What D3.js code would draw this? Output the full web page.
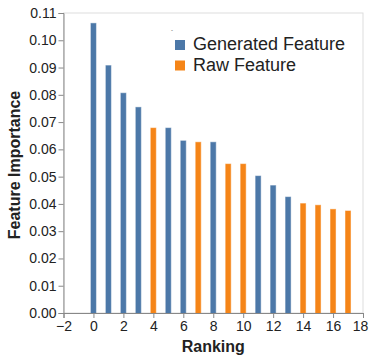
<!DOCTYPE html>
<html>
<head>
<meta charset="utf-8">
<script src="https://cdn.jsdelivr.net/npm/d3@7"></script>
<style>
  body { margin: 0; background: #fff; }
  text { font-family: Arial, "Liberation Sans", sans-serif; }
</style>
</head>
<body>
<div id="chart"></div>
<script>
// ranking of each feature (x) and its importance (y)
var ranks = [0, 1, 2, 3, 4, 5, 6, 7, 8, 9, 10, 11, 12, 13, 14, 15, 16, 17];
var importance = [0.1062, 0.0907, 0.0806, 0.0754, 0.0678, 0.0678, 0.0631, 0.0626, 0.0626,
                  0.0546, 0.0546, 0.0502, 0.0467, 0.0425, 0.0401, 0.0395, 0.0380, 0.0374];
var featureType = ["Generated Feature", "Generated Feature", "Generated Feature", "Generated Feature",
                   "Raw Feature", "Generated Feature", "Generated Feature", "Raw Feature",
                   "Generated Feature", "Raw Feature", "Raw Feature", "Generated Feature",
                   "Generated Feature", "Generated Feature", "Raw Feature", "Raw Feature",
                   "Raw Feature", "Raw Feature"];
var categories = ["Generated Feature", "Raw Feature"];
var xTicks = [-2, 0, 2, 4, 6, 8, 10, 12, 14, 16, 18];
var yTicks = [0, 0.01, 0.02, 0.03, 0.04, 0.05, 0.06, 0.07, 0.08, 0.09, 0.10, 0.11];

var data = ranks.map(function (r, i) {
  return { rank: r, value: importance[i], type: featureType[i] };
});

var margin = { top: 13, right: 7, bottom: 46, left: 63.5 },
    width = 370 - margin.left - margin.right,
    height = 359 - margin.top - margin.bottom;

var svg = d3.select("#chart")
  .append("svg")
  .attr("width", 370)
  .attr("height", 359)
  .append("g")
  .attr("transform", "translate(" + margin.left + "," + margin.top + ")");

var x = d3.scaleLinear().domain([-2, 18]).range([0, width]);
var y = d3.scaleLinear().domain([0, 0.11]).range([height, 0]);
var color = d3.scaleOrdinal().domain(categories).range(["#4c78a8", "#f58518"]);

// frame
svg.append("rect")
  .attr("x", 0).attr("y", 0)
  .attr("width", width).attr("height", height)
  .attr("fill", "none")
  .attr("stroke", "#ddd");

// bars
var barW = 5;
svg.selectAll(".bar").data(data).enter()
  .append("rect")
  .attr("class", "bar")
  .attr("x", function (d) { return x(d.rank) - barW / 2; })
  .attr("y", function (d) { return y(d.value); })
  .attr("width", barW)
  .attr("height", function (d) { return y(0) - y(d.value); })
  .attr("fill", function (d) { return color(d.type); })
  .attr("stroke", function (d) { return color(d.type); })
  .attr("stroke-opacity", 0.55)
  .attr("stroke-width", 1);

// x axis
var xAxis = svg.append("g")
  .attr("transform", "translate(0," + height + ")")
  .call(d3.axisBottom(x).tickValues(xTicks).tickSize(5).tickPadding(3)
    .tickFormat(function (d) { return d < 0 ? "\u2212" + Math.abs(d) : d; }));

// y axis
var yAxis = svg.append("g")
  .call(d3.axisLeft(y).tickValues(yTicks).tickSize(5).tickPadding(2).tickFormat(d3.format(".2f")));

[xAxis, yAxis].forEach(function (a) {
  a.select(".domain").attr("stroke", "#888");
  a.selectAll(".tick line").attr("stroke", "#888");
  a.selectAll("text")
    .style("font-size", "14px")
    .style("font-family", "Arial, 'Liberation Sans', sans-serif")
    .attr("fill", "#222");
});
xAxis.selectAll(".tick").filter(function (d) { return d === 18; })
  .select("text").attr("text-anchor", "end").attr("dx", "0.35em");

// axis titles
svg.append("text")
  .attr("x", width / 2)
  .attr("y", height + 39)
  .attr("text-anchor", "middle")
  .style("font-size", "16px")
  .style("font-weight", "bold")
  .attr("fill", "#222")
  .text("Ranking");

svg.append("text")
  .attr("transform", "translate(" + (-43.5) + "," + (height / 2 + 2) + ")rotate(-90)")
  .attr("text-anchor", "middle")
  .style("font-size", "16px")
  .style("font-weight", "bold")
  .attr("fill", "#222")
  .text("Feature Importance");

// legend
var legend = svg.append("g")
  .attr("transform", "translate(" + (175 - margin.left) + "," + (40 - margin.top) + ")");

legend.append("text")
  .attr("x", -4).attr("y", -8)
  .style("font-size", "6px")
  .attr("fill", "#444")
  .text("-");

var rows = legend.selectAll(".row").data(categories).enter()
  .append("g")
  .attr("transform", function (d, i) { return "translate(0," + (i * 20.5) + ")"; });

rows.append("rect")
  .attr("width", 10).attr("height", 10)
  .attr("fill", function (d) { return color(d); });

rows.append("text")
  .attr("x", 18).attr("y", 10)
  .style("font-size", "18px")
  .attr("fill", "#222")
  .text(function (d) { return d; });
</script>
</body>
</html>
